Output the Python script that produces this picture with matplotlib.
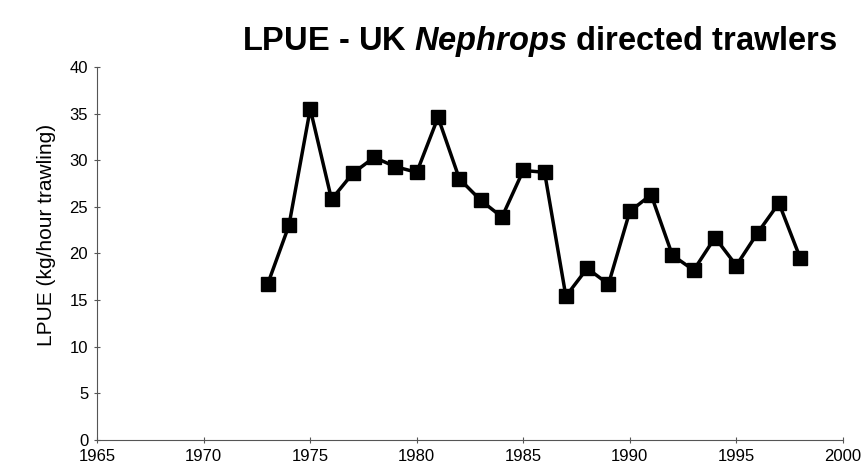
import matplotlib
matplotlib.use("Agg")
import matplotlib.pyplot as plt

plt.rcParams['font.family'] = ['Liberation Sans', 'DejaVu Sans']
plt.rcParams['mathtext.fontset'] = 'custom'
plt.rcParams['mathtext.bfit'] = 'Liberation Sans:italic:bold'
plt.rcParams['mathtext.bf'] = 'Liberation Sans:bold'

years = [1973, 1974, 1975, 1976, 1977, 1978, 1979, 1980, 1981, 1982, 1983, 1984, 1985,
         1986, 1987, 1988, 1989, 1990, 1991, 1992, 1993, 1994, 1995, 1996, 1997, 1998]
lpue = [16.7, 23.0, 35.5, 25.8, 28.6, 30.3, 29.3, 28.7, 34.6, 28.0, 25.7, 23.9, 28.9,
        28.7, 15.4, 18.4, 16.7, 24.5, 26.3, 19.8, 18.2, 21.7, 18.7, 22.2, 25.4, 19.5]
x_ticks = [1965, 1970, 1975, 1980, 1985, 1990, 1995, 2000]
y_ticks = [0, 5, 10, 15, 20, 25, 30, 35, 40]

fig = plt.figure(figsize=(8.68, 4.75), dpi=100)
ax = fig.add_axes([0.112, 0.074, 0.859, 0.785])

ax.plot(years, lpue, color='black', lw=2.5, marker='s', ms=10.5, mfc='black', mec='black')

ax.set_xlim(1965, 2000)
ax.set_ylim(0, 40)
ax.set_xticks(x_ticks)
ax.set_yticks(y_ticks)
for s in ['top', 'right']:
    ax.spines[s].set_visible(False)
for s in ['left', 'bottom']:
    ax.spines[s].set_color('#555555')
    ax.spines[s].set_linewidth(0.8)
ax.tick_params(direction='inout', length=5, width=0.8, color='#555555', labelsize=12, pad=4)
ax.set_ylabel('LPUE (kg/hour trawling)', fontsize=15)
ax.yaxis.set_label_coords(-0.055, 0.55)

fig.text(0.622, 0.912, r'LPUE - UK $\mathbfit{Nephrops}$ directed trawlers',
         ha='center', va='center', fontsize=23.5, fontweight='bold')

fig.savefig('out.png', dpi=100)
